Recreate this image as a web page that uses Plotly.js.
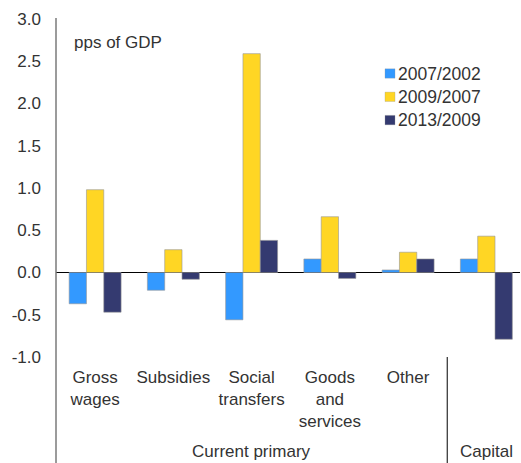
<!DOCTYPE html>
<html>
<head>
<meta charset="utf-8">
<script src="https://cdn.plot.ly/plotly-3.0.1.min.js"></script>
<style>html,body{margin:0;padding:0;background:#fff;}#chart{width:521px;height:463px;}</style>
</head>
<body>
<div id="chart"></div>
<script>
const categories = ["Gross wages", "Subsidies", "Social transfers", "Goods and services", "Other", "Capital"];
const tickLabels = ["Gross<br>wages", "Subsidies", "Social<br>transfers", "Goods<br>and<br>services", "Other", ""];
const seriesNames = ["2007/2002", "2009/2007", "2013/2009"];
const s2007_2002 = [-0.37, -0.21, -0.56, 0.16, 0.03, 0.16];
const s2009_2007 = [0.98, 0.27, 2.59, 0.66, 0.24, 0.43];
const s2013_2009 = [-0.47, -0.08, 0.38, -0.07, 0.16, -0.79];
const groupLabels = ["Current primary", "Capital"];
const yTicks = [-1.0, -0.5, 0.0, 0.5, 1.0, 1.5, 2.0, 2.5, 3.0];
const unitLabel = "pps of GDP";

const colors = ["#3399FF", "#FFD624", "#343A70"];
const values = [s2007_2002, s2009_2007, s2013_2009];
const xIdx = categories.map((c, i) => i);
const font = {family: "Liberation Sans, Arial, sans-serif", size: 17, color: "#333333"};
const legFont = {family: "Liberation Sans, Arial, sans-serif", size: 17.5, color: "#333333"};

const traces = values.map((v, k) => ({
  type: "bar",
  name: seriesNames[k],
  x: xIdx,
  y: v,
  text: categories,
  marker: {color: colors[k], line: {color: "rgba(150,150,150,0.6)", width: 1}},
  textposition: "none",
  showlegend: false,
  hoverinfo: "skip"
}));

const shapes = [
  {type: "line", xref: "paper", yref: "paper", x0: 0, x1: 0, y0: 1.003, y1: -0.32, line: {color: "#7a7a7a", width: 1.5}},
  {type: "line", xref: "x", yref: "paper", x0: 4.5, x1: 4.5, y0: 0, y1: -0.32, line: {color: "#000", width: 1}}
];
const annotations = [
  {xref: "paper", yref: "paper", x: 0.0345, y: 0.9296, xanchor: "left", yanchor: "middle", text: unitLabel, showarrow: false, font: font},
  {xref: "x", yref: "paper", x: 2, y: -0.2787, xanchor: "center", yanchor: "middle", text: groupLabels[0], showarrow: false, font: font},
  {xref: "x", yref: "paper", x: 5, y: -0.2787, xanchor: "center", yanchor: "middle", text: groupLabels[1], showarrow: false, font: font}
];
// custom legend
const legX = (385 - 56) / 464, legTextX = (396 - 56) / 464;
seriesNames.forEach((n, k) => {
  const cy = 74 + k * 23.3;
  const py = (357.5 - cy) / 338;
  const half = 4.7 / 338;
  shapes.push({type: "rect", xref: "paper", yref: "paper", x0: legX, x1: legX + 10 / 464, y0: py - half, y1: py + half,
    fillcolor: colors[k], line: {color: "rgba(150,150,150,0.6)", width: 0.5}});
  annotations.push({xref: "paper", yref: "paper", x: legTextX, y: py, xanchor: "left", yanchor: "middle", text: n, showarrow: false, font: legFont});
});

const layout = {
  width: 521, height: 463,
  margin: {l: 56, r: 1, t: 19, b: 106, pad: 0},
  paper_bgcolor: "#fff", plot_bgcolor: "#fff",
  font: font,
  barmode: "group",
  bargap: 0.336,
  bargroupgap: 0,
  showlegend: false,
  xaxis: {
    type: "linear", range: [-0.5, 5.43],
    tickvals: xIdx, ticktext: tickLabels,
    showgrid: false, zeroline: false, showline: false, ticks: "",
    tickfont: font, ticklabelstandoff: 8, fixedrange: true
  },
  yaxis: {
    range: [-1, 3], tickvals: yTicks, ticktext: yTicks.map(v => v.toFixed(1)),
    showgrid: false, zeroline: true, zerolinecolor: "#000", zerolinewidth: 1.2,
    showline: false, ticks: "", tickfont: font, ticklabelstandoff: 14, fixedrange: true
  },
  shapes: shapes,
  annotations: annotations
};
Plotly.newPlot("chart", traces, layout, {displayModeBar: false, staticPlot: true});
</script>
</body>
</html>
